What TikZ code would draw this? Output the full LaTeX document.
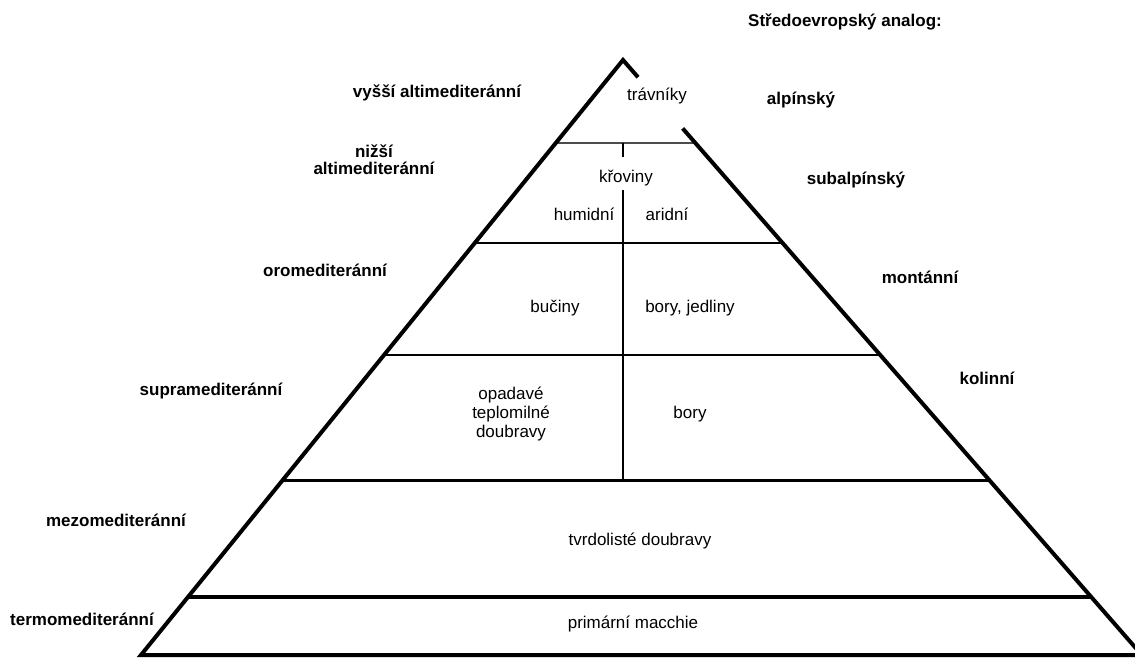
\documentclass[tikz,border=0pt]{standalone}
\usepackage{fontspec}
\setmainfont{Liberation Sans}
\usetikzlibrary{calc}
\begin{document}
\begin{tikzpicture}[x=1pt,y=-1pt,
  edge/.style={line width=4pt, line join=miter},
  tier/.style={line width=#1},
  divider/.style={line width=1.3pt},
  lab/.style={font=\fontsize{17}{17.5}\selectfont\bfseries, anchor=base, inner sep=0pt, align=center},
  veg/.style={font=\fontsize{17}{19.3}\selectfont, anchor=base, inner sep=0pt, align=center},
]
\useasboundingbox (0,0) rectangle (1135,658);
\clip (0,0) rectangle (1135,658);
% pyramid corners
\coordinate (apex) at (623,60);
\coordinate (BL) at (141,655);
\coordinate (BR) at (1141.8,655);
% gap in the right edge
\coordinate (G1) at ($(apex)!0.029!(BR)$);
\coordinate (G2) at ($(apex)!0.115!(BR)$);
% tier boundaries
\coordinate (L1) at ($(apex)!0.1395!(BL)$); \coordinate (R1) at ($(apex)!0.1395!(BR)$);
\coordinate (L2) at ($(apex)!0.3076!(BL)$); \coordinate (R2) at ($(apex)!0.3076!(BR)$);
\coordinate (L3) at ($(apex)!0.4958!(BL)$); \coordinate (R3) at ($(apex)!0.4958!(BR)$);
\coordinate (L4) at ($(apex)!0.7059!(BL)$); \coordinate (R4) at ($(apex)!0.7059!(BR)$);
\coordinate (L5) at ($(apex)!0.9025!(BL)$); \coordinate (R5) at ($(apex)!0.9025!(BR)$);
\draw[tier=2pt, draw=black!70] (L1) -- (R1);
\draw[tier=2.5pt] (L2) -- (R2);
\draw[tier=2pt] (L3) -- (R3);
\draw[tier=3pt] (L4) -- (R4);
\draw[tier=3.5pt] (L5) -- (R5);
% vertical divider
\coordinate (V1) at (623,143);
\coordinate (V2) at (623,157);
\coordinate (V3) at (623,190);
\coordinate (V4) at (623,480);
\draw[divider] (V1) -- (V2);
\draw[divider] (V3) -- (V4);
% outline
\draw[edge] (G2) -- (BR) -- (BL) -- (apex) -- (G1);
% vegetation labels
\node[veg] (trav) at (657,100.7) {trávníky};
\node[veg] (krov) at (626,182.7) {křoviny};
\node[veg] (hum) at (584,220.7) {humidní};
\node[veg] (ari) at (667,220.7) {aridní};
\node[veg] (buc) at (555,312) {bučiny};
\node[veg] (borj) at (690,312) {bory, jedliny};
\node[veg] (opa) at (511,437.7) {opadavé\\teplomilné\\doubravy};
\node[veg] (bor) at (690,418) {bory};
\node[veg] (tvr) at (640,545) {tvrdolisté doubravy};
\node[veg] (mac) at (633,628) {primární macchie};
% belt labels
\node[lab] (hdr) at (845,26.7) {Středoevropský analog:};
\node[lab] (vys) at (437,98) {vyšší altimediteránní};
\node[lab] (niz) at (374,175) {nižší\\altimediteránní};
\node[lab] (oro) at (325,276.7) {oromediteránní};
\node[lab] (sup) at (211,395) {supramediteránní};
\node[lab] (mez) at (116,526) {mezomediteránní};
\node[lab] (ter) at (82,625) {termomediteránní};
\node[lab] (alp) at (801,105) {alpínský};
\node[lab] (sub) at (856,184) {subalpínský};
\node[lab] (mon) at (920,283) {montánní};
\node[lab] (kol) at (987,384) {kolinní};
\end{tikzpicture}
\end{document}
